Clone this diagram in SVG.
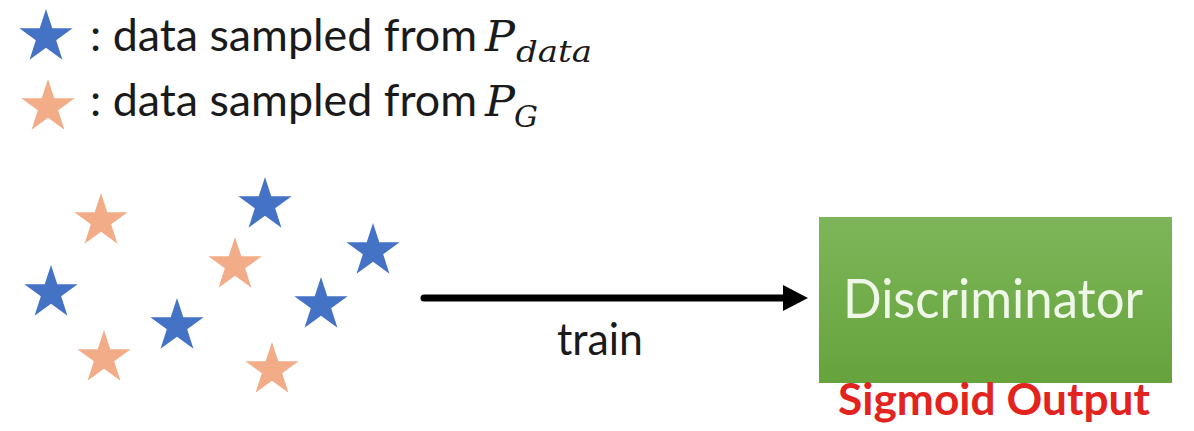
<svg xmlns="http://www.w3.org/2000/svg" width="1194" height="431" viewBox="0 0 1194 431">
<style>
.lbl{font-family:Lato,"Open Sans","Liberation Sans",sans-serif;fill:#1a1a1a;}
.math{font-family:"DejaVu Serif","Liberation Serif",serif;font-style:italic;fill:#1a1a1a;}
.blue{fill:#4472C4;}
.orange{fill:#F2AD88;}
</style>
<defs>
<path id="star" d="M0,-28 L6.29,-8.66 L26.63,-8.65 L10.18,3.31 L16.46,22.65 L0,10.7 L-16.46,22.65 L-10.18,3.31 L-26.63,-8.65 L-6.29,-8.66 Z"/>
<linearGradient id="grn" x1="0" y1="0" x2="0" y2="1">
<stop offset="0" stop-color="#7DB65A"/>
<stop offset="1" stop-color="#66A33C"/>
</linearGradient>
</defs>
<rect width="1194" height="431" fill="#ffffff"/>
<g id="legend">
<use href="#star" class="blue" x="46" y="37"/>
<text class="lbl" x="90" y="51" font-size="45" textLength="387" lengthAdjust="spacingAndGlyphs">: data sampled from</text>
<text class="math" x="485" y="51" font-size="42" textLength="30" lengthAdjust="spacingAndGlyphs">P</text>
<text class="math" x="516" y="62" font-size="30" textLength="76" lengthAdjust="spacingAndGlyphs">data</text>
<use href="#star" class="orange" x="48" y="107"/>
<text class="lbl" x="90" y="116" font-size="45" textLength="387" lengthAdjust="spacingAndGlyphs">: data sampled from</text>
<text class="math" x="485" y="116" font-size="42" textLength="30" lengthAdjust="spacingAndGlyphs">P</text>
<text class="math" x="514" y="127" font-size="30">G</text>
</g>
<g id="samples">
<use href="#star" class="orange" x="101" y="221"/>
<use href="#star" class="blue" x="265" y="205"/>
<use href="#star" class="blue" x="373" y="251"/>
<use href="#star" class="orange" x="235" y="265"/>
<use href="#star" class="blue" x="51" y="293"/>
<use href="#star" class="blue" x="177" y="326"/>
<use href="#star" class="blue" x="321" y="305"/>
<use href="#star" class="orange" x="104" y="358"/>
<use href="#star" class="orange" x="272" y="370"/>
</g>
<g id="connectors">
<line x1="424" y1="298" x2="786" y2="298" stroke="#000" stroke-width="7" stroke-linecap="round"/>
<polygon points="808,298 783,285 783,311" fill="#000"/>
<text class="lbl" x="600" y="355" font-size="44" text-anchor="middle" textLength="86" lengthAdjust="spacingAndGlyphs">train</text>
</g>
<g id="discriminator">
<rect x="819" y="217" width="353" height="166" fill="url(#grn)"/>
<text x="993" y="318" font-family="Lato,'Open Sans','Liberation Sans',sans-serif" font-size="54" fill="#EEF7E8" text-anchor="middle" textLength="300" lengthAdjust="spacingAndGlyphs">Discriminator</text>
<text x="994" y="415" font-family="Lato,'Open Sans','Liberation Sans',sans-serif" font-weight="bold" font-size="44" fill="#E2231E" text-anchor="middle" textLength="312" lengthAdjust="spacingAndGlyphs">Sigmoid Output</text>
</g>
</svg>
